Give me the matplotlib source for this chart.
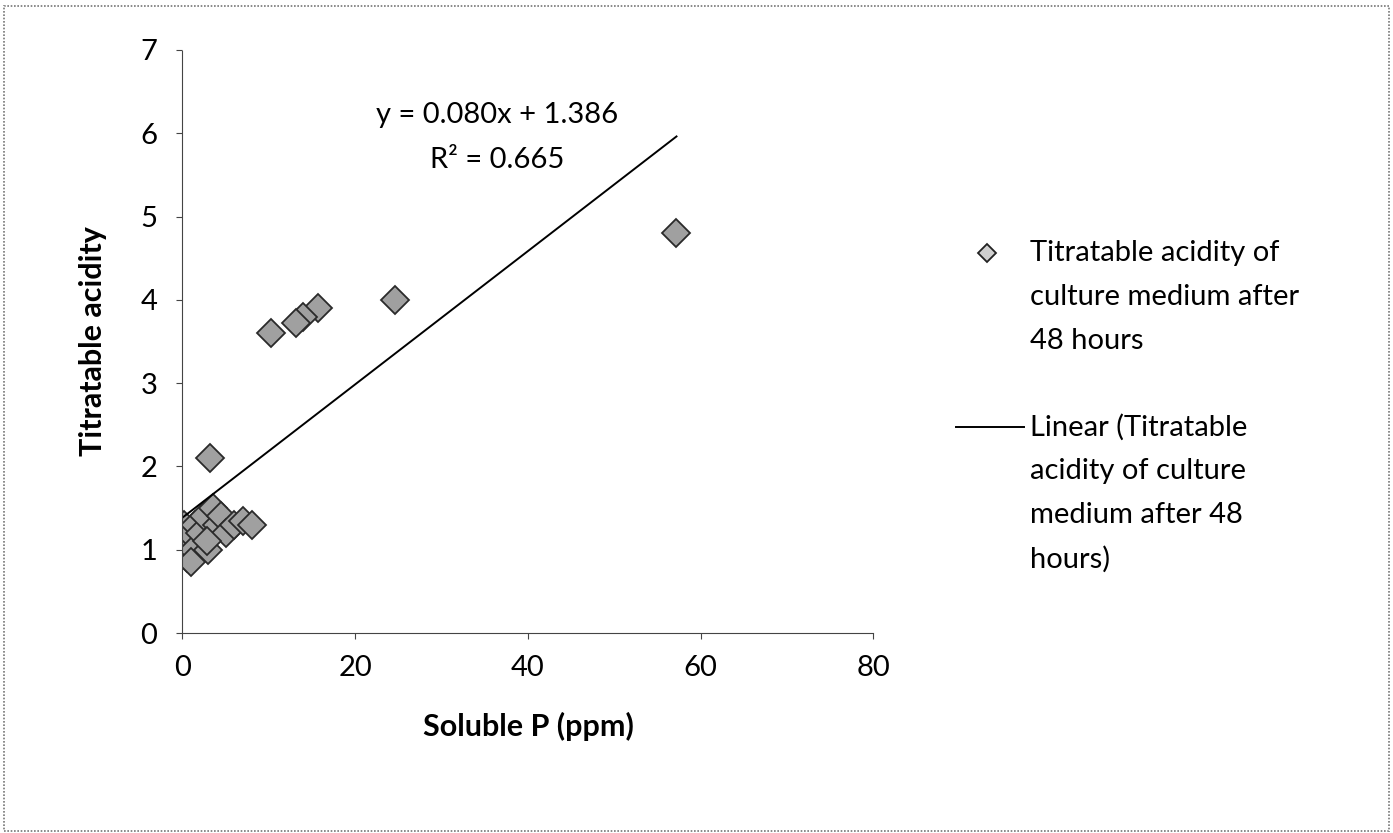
"""Titratable acidity vs soluble P scatter with linear trendline."""

import matplotlib
matplotlib.rcParams['font.family'] = ['Lato', 'DejaVu Sans']
import matplotlib.pyplot as plt
from matplotlib.patches import Rectangle
from matplotlib.lines import Line2D
import numpy as np

# data
soluble_p = [57.2, 24.6, 15.7, 14.0, 13.2, 10.2, 3.2,
             0.2, 0.3, 0.5, 0.8, 1.2, 1.5, 2.0, 2.5, 3.0, 3.5,
             4.0, 4.5, 5.0, 6.0, 7.0, 8.0, 1.0, 2.8]
acidity = [4.8, 4.0, 3.9, 3.8, 3.72, 3.6, 2.1,
           1.3, 1.1, 0.9, 1.2, 1.0, 1.3, 1.2, 1.4, 1.0, 1.5,
           1.3, 1.4, 1.2, 1.3, 1.35, 1.3, 0.85, 1.1]
slope, intercept = 0.080, 1.386
r_squared = 0.665

x_ticks = [0, 20, 40, 60, 80]
y_ticks = [0, 1, 2, 3, 4, 5, 6, 7]

series_label = "Titratable acidity of\nculture medium after\n48 hours"
trend_label = "Linear (Titratable\nacidity of culture\nmedium after 48\nhours)"

FS = 21
W, H = 1393, 833


def main():
    fig = plt.figure(figsize=(W / 100, H / 100), dpi=100)
    ax = fig.add_axes([0.131, 0.240, 0.496, 0.700])

    ax.plot(soluble_p, acidity, linestyle='none', marker='D', ms=14,
            mfc='#a0a0a0', mec='#2a2a2a', mew=1.3)
    x_line = np.array([0, max(soluble_p)])
    ax.plot(x_line, slope * x_line + intercept, color='black', lw=1.4)

    ax.set_xlim(0, 80)
    ax.set_ylim(0, 7)
    ax.set_xticks(x_ticks)
    ax.set_yticks(y_ticks)
    for side in ('top', 'right'):
        ax.spines[side].set_visible(False)
    for side in ('left', 'bottom'):
        ax.spines[side].set_linestyle((0, (2, 1)))
        ax.spines[side].set_color('#444444')
    ax.tick_params(axis='both', labelsize=FS, length=4, direction='out',
                   color='#444444')
    ax.tick_params(axis='x', pad=12)
    ax.tick_params(axis='y', pad=14)

    ax.set_xlabel("Soluble P (ppm)", fontsize=FS + 1, fontweight='bold', labelpad=22)
    ax.set_ylabel("Titratable acidity", fontsize=FS + 1, fontweight='bold', labelpad=24)

    ax.text(0.456, 0.888, "y = 0.080x + 1.386", transform=ax.transAxes,
            fontsize=FS, ha='center', va='center')
    ax.text(0.456, 0.811, "R\u00b2 = {:.3f}".format(r_squared), transform=ax.transAxes,
            fontsize=FS, ha='center', va='center')

    # legend drawn by hand so each handle sits level with its first text line
    fig.add_artist(Line2D([0.7085], [1 - 253 / H], transform=fig.transFigure,
                          marker='D', ms=9, mfc='#d0d0d0', mec='#222222', mew=1.3,
                          linestyle='none'))
    fig.add_artist(Line2D([0.686, 0.735], [1 - 427 / H] * 2, transform=fig.transFigure,
                          color='black', lw=1.4))
    for label, ypix in [(series_label, 253), (trend_label, 427)]:
        for i, line in enumerate(label.split('\n')):
            fig.text(0.7395, 1 - (ypix + 44 * i) / H, line, fontsize=FS,
                     ha='left', va='center')

    # dotted border round the whole picture
    fig.patches.append(Rectangle((0.003, 0.003), 0.994, 0.99, transform=fig.transFigure,
                                 fill=False, edgecolor='#777777', lw=1.2,
                                 linestyle=(0, (1, 1))))

    fig.savefig('out.png', dpi=100)


if __name__ == '__main__':
    main()
